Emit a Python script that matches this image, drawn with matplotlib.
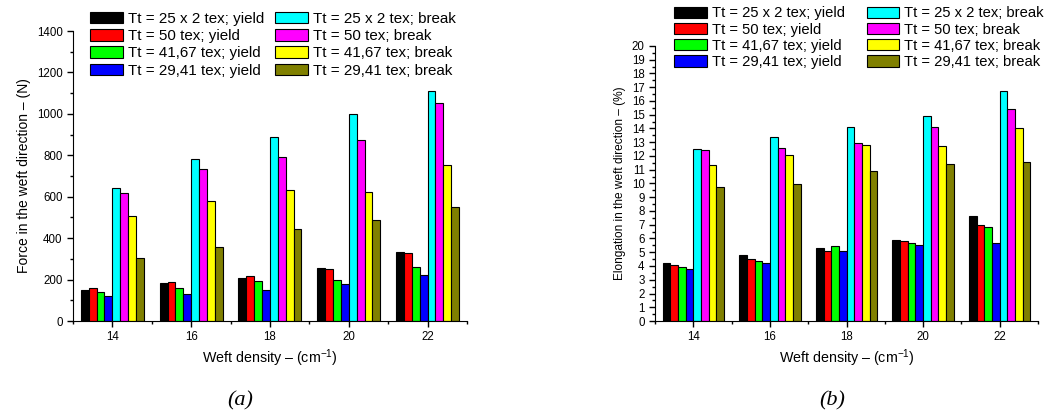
"""Weft force and elongation at yield / break vs weft density."""
import matplotlib

matplotlib.use("Agg")
import matplotlib.pyplot as plt
import numpy as np
from matplotlib.ticker import MultipleLocator

plt.rcParams["font.family"] = ["Liberation Sans", "DejaVu Sans"]
plt.rcParams["mathtext.fontset"] = "custom"
plt.rcParams["mathtext.rm"] = "Liberation Sans"
plt.rcParams["mathtext.it"] = "Liberation Sans"

weft_density = [14, 16, 18, 20, 22]

labels = [
    "Tt = 25 x 2 tex; yield",
    "Tt = 50 tex; yield",
    "Tt = 41,67 tex; yield",
    "Tt = 29,41 tex; yield",
    "Tt = 25 x 2 tex; break",
    "Tt = 50 tex; break",
    "Tt = 41,67 tex; break",
    "Tt = 29,41 tex; break",
]
colors = ["#000000", "#ff0000", "#00ff00", "#0000ff",
          "#00ffff", "#ff00ff", "#ffff00", "#808000"]

# force (N)
force_yield_25x2 = [152, 185, 210, 257, 334]
force_yield_50 = [157, 188, 215, 249, 326]
force_yield_4167 = [138, 159, 191, 196, 263]
force_yield_2941 = [120, 130, 152, 181, 222]
force_break_25x2 = [644, 781, 886, 1000, 1112]
force_break_50 = [620, 734, 790, 874, 1054]
force_break_4167 = [509, 581, 633, 625, 754]
force_break_2941 = [305, 357, 442, 487, 551]

# elongation (%)
elong_yield_25x2 = [4.22, 4.81, 5.32, 5.87, 7.60]
elong_yield_50 = [4.10, 4.54, 5.07, 5.80, 7.01]
elong_yield_4167 = [3.91, 4.39, 5.46, 5.70, 6.84]
elong_yield_2941 = [3.81, 4.22, 5.07, 5.56, 5.66]
elong_break_25x2 = [12.52, 13.40, 14.13, 14.90, 16.72]
elong_break_50 = [12.45, 12.60, 12.96, 14.10, 15.44]
elong_break_4167 = [11.33, 12.06, 12.82, 12.74, 14.05]
elong_break_2941 = [9.71, 9.93, 10.92, 11.43, 11.58]

force_series = [force_yield_25x2, force_yield_50, force_yield_4167, force_yield_2941,
                force_break_25x2, force_break_50, force_break_4167, force_break_2941]
elong_series = [elong_yield_25x2, elong_yield_50, elong_yield_4167, elong_yield_2941,
                elong_break_25x2, elong_break_50, elong_break_4167, elong_break_2941]


def draw(ax, series, ylim, major, minor, ylabel, ylabel_size, leg):
    x = np.array(weft_density, dtype=float)
    w = 0.2
    for i, (vals, c, lab) in enumerate(zip(series, colors, labels)):
        ax.bar(x - 0.8 + w * (i + 0.5), vals, width=w, color=c,
               edgecolor="black", lw=0.8, label=lab)
    ax.set_xlim(13, 23)
    ax.set_ylim(*ylim)
    ax.set_xticks(weft_density)
    ax.xaxis.set_minor_locator(MultipleLocator(1))
    ax.yaxis.set_major_locator(MultipleLocator(major))
    ax.yaxis.set_minor_locator(MultipleLocator(minor))
    ax.spines[["top", "right"]].set_visible(False)
    ax.tick_params(which="major", length=4, width=1, labelsize=8.3, direction="out")
    ax.tick_params(which="minor", length=2.5, width=1, direction="out")
    ax.set_xlabel("Weft density – (cm$^{-1}$)", fontsize=10.3, labelpad=3)
    ax.set_ylabel(ylabel, fontsize=ylabel_size)
    anchor, fs, spacing, colsp = leg
    ax.legend(ncol=2, frameon=False, fontsize=fs, loc="upper left",
              bbox_to_anchor=anchor, bbox_transform=ax.figure.transFigure,
              borderpad=0, handlelength=2.2, handleheight=0.8,
              handletextpad=0.33, columnspacing=colsp, labelspacing=spacing)


fig = plt.figure(figsize=(10.44, 4.15), dpi=100)
ax1 = fig.add_axes([0.0699, 0.2265, 0.3774, 0.6988])
ax2 = fig.add_axes([0.6274, 0.2265, 0.3669, 0.6627])

draw(ax1, force_series, (0, 1400), 200, 100,
     "Force in the weft direction – (N)", 10,
     ((82 / 1044, 1 - 4 / 415), 10.9, 0.22, 0.73))
draw(ax2, elong_series, (0, 20), 1, 0.5,
     "Elongation in the weft direction – (%)", 8.6,
     ((667 / 1044, 1 + 1 / 415), 10.6, 0.15, 1.5))

fig.text(240 / 1044, 1 - 401 / 415, "(a)", fontsize=16, style="italic",
         family="Liberation Serif", ha="center", va="center")
fig.text(832 / 1044, 1 - 401 / 415, "(b)", fontsize=16, style="italic",
         family="Liberation Serif", ha="center", va="center")

fig.savefig("out.png", dpi=100)
plt.close(fig)
